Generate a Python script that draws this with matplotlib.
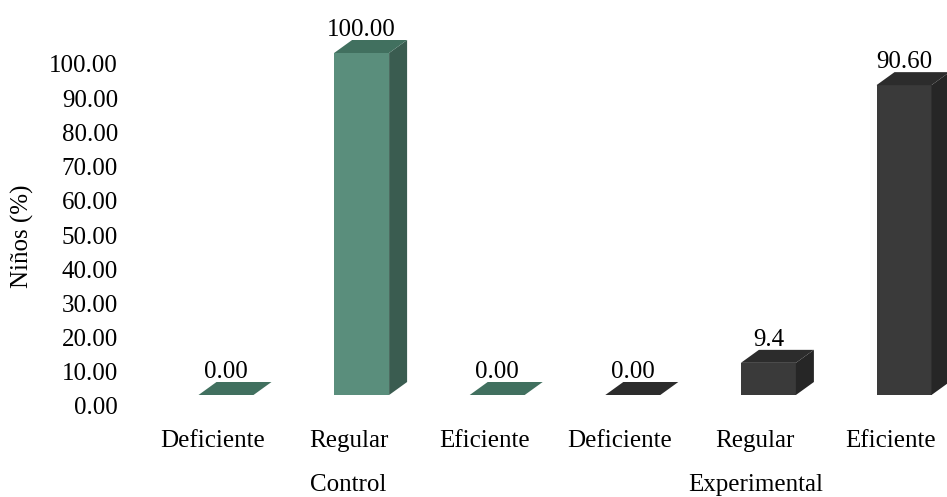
import matplotlib
matplotlib.use("Agg")
import matplotlib.pyplot as plt
from matplotlib.patches import Polygon
from matplotlib.transforms import ScaledTranslation, blended_transform_factory

plt.rcParams['font.family'] = ['Liberation Serif', 'DejaVu Serif']

# Data
groups = ["Control", "Experimental"]
levels = ["Deficiente", "Regular", "Eficiente"]
control = [0.00, 100.00, 0.00]
experimental = [0.00, 9.4, 90.60]
decimals = [2, 2, 2, 2, 1, 2]
yticks = [0, 10, 20, 30, 40, 50, 60, 70, 80, 90, 100]

# Colours: front, top, side per group
palette = {
    "Control": ("#5A8E7C", "#41705F", "#3A5C50"),
    "Experimental": ("#3A3A3A", "#2C2C2C", "#262626"),
}

W, H, DPI = 947, 497, 100
fig = plt.figure(figsize=(W / DPI, H / DPI), dpi=DPI)

# axes area in pixels
left_px, right_px, top_px, bottom_px = 150, 947, 0, 420
ax = fig.add_axes([left_px / W, (H - bottom_px) / H,
                   (right_px - left_px) / W, (bottom_px - top_px) / H])

px_per_cat = 135.6
cat0_px = 213
zero_px = 395
px_per_unit = 3.42
ax.set_xlim((left_px - cat0_px) / px_per_cat, (right_px - cat0_px) / px_per_cat)
ax.set_ylim(-(bottom_px - zero_px) / px_per_unit, (zero_px - top_px) / px_per_unit)

for s in ax.spines.values():
    s.set_visible(False)

# 3D box geometry (in data units)
shift = 13 / px_per_cat          # front face offset from category centre
width = 55 / px_per_cat          # front face width
dx = 18 / px_per_cat             # depth offset in x
dy = 13 / px_per_unit            # depth offset in y

values = control + experimental
series = [groups[0]] * 3 + [groups[1]] * 3
labels = levels + levels

for i, (v, g, d) in enumerate(zip(values, series, decimals)):
    front, top, side = palette[g]
    x0 = i + shift - width / 2
    x1 = x0 + width
    if v > 0:
        ax.bar(x0, v, width=width, align='edge', color=front, linewidth=0, zorder=2)
        ax.add_patch(Polygon([(x1, 0), (x1, v), (x1 + dx, v + dy), (x1 + dx, dy)],
                             closed=True, facecolor=side, edgecolor='none',
                             zorder=2, clip_on=False))
    ax.add_patch(Polygon([(x0, v), (x1, v), (x1 + dx, v + dy), (x0 + dx, v + dy)],
                         closed=True, facecolor=top, edgecolor='none',
                         zorder=3, clip_on=False))
    ax.text(i + shift, v + dy + 4 / px_per_unit, f"{v:.{d}f}",
            ha='center', va='baseline', fontsize=18, color='black', clip_on=False)

# value axis
ax.set_yticks(yticks)
ax.set_yticklabels([f"{t:.2f}" for t in yticks], fontsize=18)
ax.tick_params(axis='y', length=0, pad=23)
off = ScaledTranslation(0, -11 / DPI, fig.dpi_scale_trans)
for lab in ax.get_yticklabels():
    lab.set_transform(lab.get_transform() + off)

# category axis
ax.set_xticks(range(len(labels)))
ax.set_xticklabels(labels, fontsize=18)
ax.tick_params(axis='x', length=0, pad=7)

trans = blended_transform_factory(ax.transData, fig.transFigure)
for gi, g in enumerate(groups):
    ax.text(gi * 3 + 1, 1 - 485 / H, g, transform=trans, ha='center', va='center',
            fontsize=18)

fig.text(22 / W, 1 - 236 / H, "Niños (%)", rotation=90, ha='center', va='center',
         fontsize=18)

fig.savefig("out.png", dpi=DPI)
